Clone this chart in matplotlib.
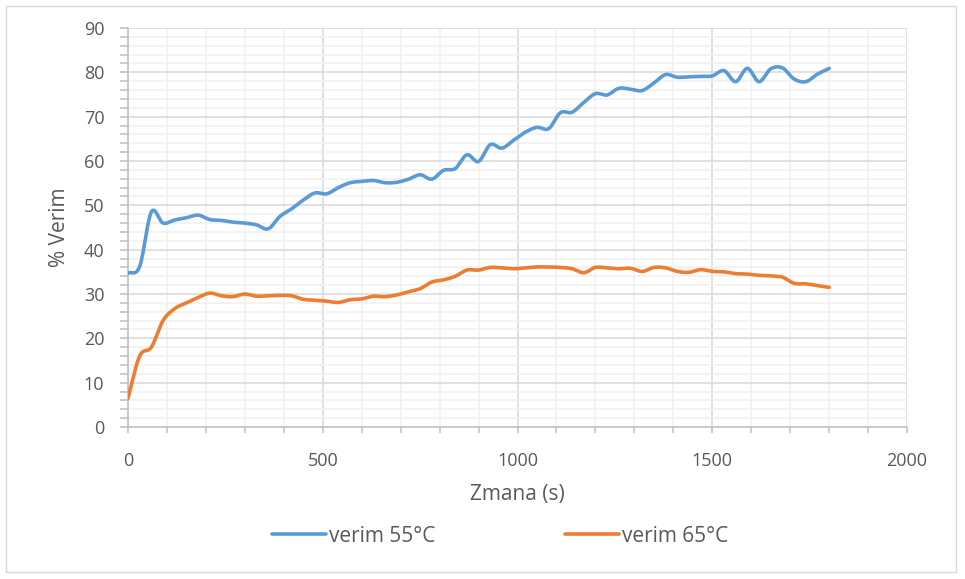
import numpy as np
import matplotlib
matplotlib.use("Agg")
import matplotlib.pyplot as plt
from matplotlib.patches import Rectangle
from matplotlib.lines import Line2D

# measurements every 30 s
zaman = list(range(0, 1801, 30))

verim_55 = [34.7, 36.2, 48.5, 46.0, 46.7, 47.2, 47.8, 46.8, 46.6, 46.2,
            46.0, 45.6, 44.7, 47.5, 49.2, 51.2, 52.8, 52.6, 54.0, 55.1,
            55.4, 55.6, 55.1, 55.2, 55.9, 56.9, 55.9, 57.9, 58.3, 61.4,
            59.9, 63.7, 62.9, 64.7, 66.5, 67.6, 67.3, 70.9, 71.0, 73.2,
            75.2, 74.9, 76.4, 76.2, 75.9, 77.6, 79.5, 78.9, 79.0, 79.1,
            79.2, 80.4, 77.9, 80.9, 77.9, 80.8, 81.0, 78.5, 77.9, 79.6,
            80.9]

verim_65 = [6.5, 16.0, 18.0, 24.0, 26.7, 28.0, 29.2, 30.2, 29.6, 29.4,
            30.0, 29.5, 29.6, 29.7, 29.6, 28.8, 28.6, 28.4, 28.1, 28.7,
            28.9, 29.5, 29.4, 29.8, 30.5, 31.2, 32.7, 33.2, 34.0, 35.4,
            35.4, 36.0, 35.9, 35.7, 35.9, 36.1, 36.1, 36.0, 35.7, 34.8,
            36.0, 35.9, 35.7, 35.8, 35.1, 36.0, 35.9, 35.1, 34.9, 35.5,
            35.1, 35.0, 34.6, 34.5, 34.2, 34.1, 33.8, 32.4, 32.3, 31.9,
            31.5]

seriler = ["verim 55°C", "verim 65°C"]
renkler = ["#5B9BD5", "#ED7D31"]


def smooth(x, y, n=20):
    # Catmull-Rom curve through every point, like a smoothed office chart line
    x = np.asarray(x, float)
    y = np.asarray(y, float)
    px = np.concatenate([[2 * x[0] - x[1]], x, [2 * x[-1] - x[-2]]])
    py = np.concatenate([[2 * y[0] - y[1]], y, [2 * y[-1] - y[-2]]])
    t = np.linspace(0, 1, n, endpoint=False)
    xs, ys = [], []
    for i in range(1, len(px) - 2):
        for p, out in ((px, xs), (py, ys)):
            p0, p1, p2, p3 = p[i - 1], p[i], p[i + 1], p[i + 2]
            out.extend(0.5 * ((2 * p1) + (-p0 + p2) * t
                              + (2 * p0 - 5 * p1 + 4 * p2 - p3) * t ** 2
                              + (-p0 + 3 * p1 - 3 * p2 + p3) * t ** 3))
    xs.append(x[-1])
    ys.append(y[-1])
    return np.array(xs), np.array(ys)


plt.rcParams['font.family'] = ['Open Sans', 'DejaVu Sans']

fig = plt.figure(figsize=(9.65, 5.79), dpi=100)
fig.patches.append(Rectangle((0.006, 0.012), 0.985, 0.978, transform=fig.transFigure,
                             fill=False, edgecolor="#d9d9d9", linewidth=1))
ax = fig.add_axes([0.1326, 0.2625, 0.8074, 0.6891])

for y, renk in zip([verim_55, verim_65], renkler):
    sx, sy = smooth(zaman, y)
    ax.plot(sx, sy, color=renk, linewidth=2.6, solid_capstyle="round", zorder=3)

ax.set_xlim(0, 2000)
ax.set_ylim(0, 90)
ax.set_xticks(np.arange(0, 2001, 500))
ax.set_xticks(np.arange(0, 2001, 100), minor=True)
ax.set_yticks(np.arange(0, 91, 10))
ax.set_yticks(np.arange(0, 91, 2), minor=True)

ax.grid(which="major", color="#d9d9d9", linewidth=1.1)
ax.grid(which="minor", color="#f0f0f0", linewidth=1.1)
ax.set_axisbelow(True)

for s in ["top", "right"]:
    ax.spines[s].set_visible(False)
for s in ["left", "bottom"]:
    ax.spines[s].set_color("#bfbfbf")
    ax.spines[s].set_linewidth(1.1)

ax.tick_params(which="both", direction="out", color="#bfbfbf", width=1.1,
               labelsize=13, labelcolor="#595959")
ax.tick_params(axis="y", which="both", length=6, pad=11)
ax.tick_params(axis="x", which="both", length=4, pad=14)

ax.set_xlabel("Zmana (s)", fontsize=15, color="#595959", labelpad=10)
ax.set_ylabel("% Verim", fontsize=15, color="#595959", labelpad=10)

handles = [Line2D([], [], color=r, linewidth=2.6, solid_capstyle="round") for r in renkler]
fig.legend(handles, seriler, loc="center", bbox_to_anchor=(0.518, 0.074), ncol=2,
           frameon=False, fontsize=15, labelcolor="#595959", handlelength=2.6,
           handletextpad=0.15, columnspacing=6.2)

fig.savefig("out.png", dpi=100)
